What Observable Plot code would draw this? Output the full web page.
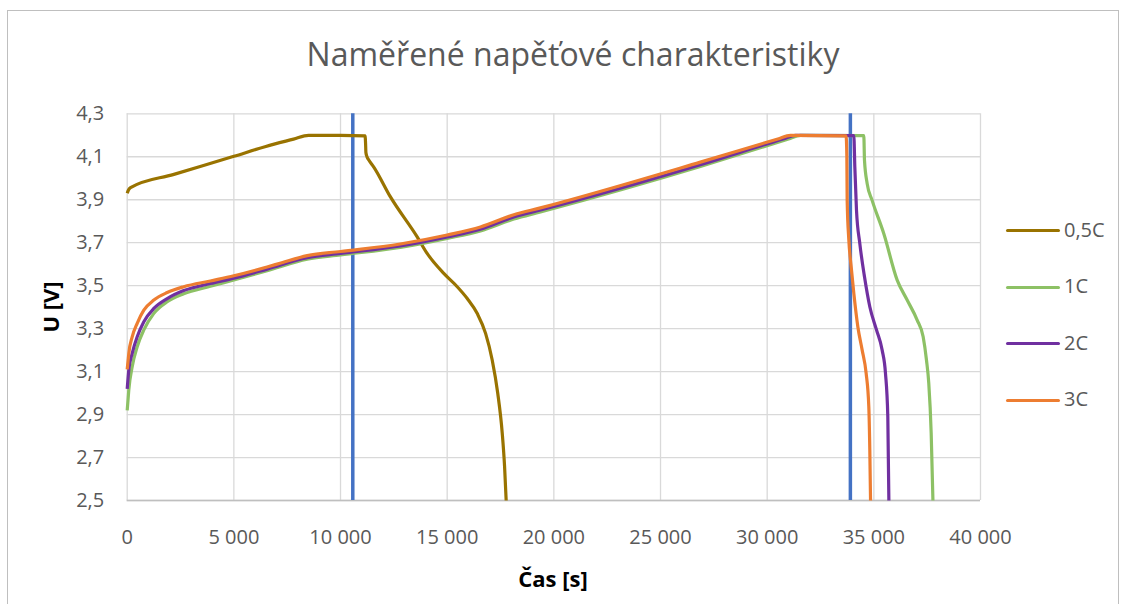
<!DOCTYPE html>
<html>
<head>
<meta charset="utf-8">
<script src="https://cdn.jsdelivr.net/npm/d3@7"></script>
<script src="https://cdn.jsdelivr.net/npm/@observablehq/plot@0.6"></script>
<style>
  body { margin: 0; background: #fff; }
  #wrap { position: relative; width: 1126px; height: 604px; overflow: hidden; font-family: "Open Sans", sans-serif; color: #595959; background: #fff; }
  #frame { position: absolute; left: 7px; top: 10px; width: 1112px; height: 640px; border: 1px solid #bfbfbf; box-sizing: border-box; }
  #chart { position: absolute; left: 0; top: 0; }
  #title { position: absolute; left: 573px; top: 38px; transform: translateX(-50%); white-space: nowrap; font-size: 32px; line-height: 1; color: #595959; }
  .axt { position: absolute; font-weight: bold; font-size: 22px; line-height: 1; color: #000; white-space: nowrap; }
  .leg { position: absolute; }
  .leg .ln { position: absolute; width: 54px; height: 3px; border-radius: 2px; }
  .leg .tx { position: absolute; font-size: 20px; line-height: 1; white-space: nowrap; color: #595959; }
</style>
</head>
<body>
<div id="wrap">
  <div id="frame"></div>
  <div id="chart"></div>
  <div id="title">Naměřené napěťové charakteristiky</div>
  <div class="axt" id="xt" style="left:553px; top:567px; transform:translateX(-50%);">Čas [s]</div>
  <div class="axt" id="yt" style="left:50px; top:307px; transform:translate(-50%,-50%) rotate(-90deg);">U [V]</div>
  <div id="legend"></div>
</div>
<script>
// ---- data ----
const seriesNames = ["0,5C", "1C", "2C", "3C"];
const seriesColors = ["#997300", "#8DC165", "#7030A0", "#ED7D31"];

const xTicks = [0, 5000, 10000, 15000, 20000, 25000, 30000, 35000, 40000];
const yTicks = [2.5, 2.7, 2.9, 3.1, 3.3, 3.5, 3.7, 3.9, 4.1, 4.3];

// vertical marker lines (time, s)
const markerTimes = [10575, 33900];

// 0,5C
const t05 = [0, 60, 155, 2190, 5000, 6500, 7800, 8500, 10000, 11150, 11175, 11190, 11240, 11325, 11560, 12340, 13594, 14060, 14840, 15470, 15940, 16410, 16800, 17110, 17370, 17580, 17690, 17765];
const v05 = [3.93, 3.945, 3.956, 4.018, 4.102, 4.148, 4.182, 4.2, 4.2, 4.197, 4.16, 4.12, 4.1, 4.085, 4.052, 3.913, 3.727, 3.65, 3.557, 3.495, 3.44, 3.37, 3.278, 3.154, 2.999, 2.814, 2.659, 2.5];

// 1C
const t1 = [0, 40, 75, 234, 469, 780, 1250, 1875, 2650, 3900, 5000, 6560, 8440, 10000, 12800, 15000, 16560, 18125, 19373, 26870, 31000, 31560, 34530, 34562, 34687, 34920, 35465, 36094, 36562, 37031, 37312, 37467, 37575, 37688, 37770];
const v1 = [2.92, 2.97, 3.015, 3.123, 3.216, 3.294, 3.371, 3.425, 3.462, 3.497, 3.527, 3.57, 3.623, 3.643, 3.678, 3.72, 3.755, 3.81, 3.843, 4.055, 4.183, 4.2, 4.198, 4.083, 3.975, 3.897, 3.743, 3.526, 3.433, 3.34, 3.262, 3.154, 3.046, 2.814, 2.5];

// 2C
const t2 = [0, 40, 75, 234, 469, 780, 1250, 1875, 2650, 3900, 5000, 6560, 8440, 10000, 12800, 15000, 16560, 18125, 19373, 26870, 30750, 31330, 34062, 34109, 34187, 34343, 34562, 34811, 35125, 35390, 35546, 35655, 35705];
const v2 = [3.02, 3.07, 3.108, 3.185, 3.262, 3.332, 3.394, 3.44, 3.477, 3.51, 3.535, 3.577, 3.63, 3.65, 3.685, 3.727, 3.763, 3.82, 3.852, 4.063, 4.183, 4.2, 4.198, 4.052, 3.851, 3.696, 3.541, 3.402, 3.294, 3.2, 3.092, 2.891, 2.5];

// 3C
const t3 = [0, 40, 75, 234, 469, 780, 1250, 1875, 2650, 3900, 5000, 6560, 7250, 8440, 10000, 12800, 15000, 16560, 18125, 19373, 26870, 30500, 31090, 33700, 33735, 33750, 33828, 33937, 34062, 34250, 34453, 34640, 34764, 34811, 34846];
const v3 = [3.11, 3.15, 3.185, 3.262, 3.325, 3.386, 3.433, 3.468, 3.495, 3.522, 3.546, 3.587, 3.607, 3.64, 3.659, 3.694, 3.736, 3.773, 3.83, 3.862, 4.075, 4.183, 4.2, 4.197, 4.1, 3.897, 3.712, 3.588, 3.464, 3.309, 3.2, 3.092, 2.937, 2.736, 2.5];

// ---- build table ----
const seriesT = [t05, t1, t2, t3];
const seriesV = [v05, v1, v2, v3];
const rows = [];
seriesNames.forEach((s, i) => {
  seriesT[i].forEach((t, j) => rows.push({s, t, v: seriesV[i][j]}));
});

const fmtX = d => d === 0 ? "0" : d3.format(",")(d).replace(/,/g, "\u00a0");
const fmtY = d => d.toFixed(1).replace(".", ",");

const chart = Plot.plot({
  width: 1126,
  height: 604,
  marginLeft: 126.7,
  marginRight: 146,
  marginTop: 113.3,
  marginBottom: 104,
  style: { fontFamily: "Open Sans, sans-serif", fontSize: "20px", color: "#595959", background: "transparent", overflow: "visible" },
  x: { domain: [0, 40000], label: null },
  y: { domain: [2.5, 4.3], label: null },
  color: { domain: seriesNames, range: seriesColors },
  marks: [
    Plot.gridX(xTicks, { stroke: "#d9d9d9", strokeOpacity: 1, strokeWidth: 1.3 }),
    Plot.gridY(yTicks, { stroke: "#d9d9d9", strokeOpacity: 1, strokeWidth: 1.3 }),
    Plot.ruleY([2.5], { stroke: "#bfbfbf", strokeWidth: 1.5 }),
    Plot.axisX(xTicks, { tickSize: 0, tickPadding: 29, tickFormat: fmtX, label: null, fill: "#595959", fontSize: 20 }),
    Plot.axisY(yTicks, { tickSize: 0, tickPadding: 23, tickFormat: fmtY, label: null, fill: "#595959", fontSize: 20 }),
    Plot.ruleX(markerTimes, { stroke: "#4472C4", strokeWidth: 3.5 }),
    Plot.line(rows, { x: "t", y: "v", z: "s", stroke: "s", strokeWidth: 3.2, curve: "monotone-x", strokeLinejoin: "round", strokeLinecap: "butt" })
  ]
});
document.getElementById("chart").appendChild(chart);

// legend
const legend = document.getElementById("legend");
const legY = [230.7, 287.3, 343.7, 400.3];
seriesNames.forEach((s, i) => {
  const ln = document.createElement("div");
  ln.className = "leg";
  ln.innerHTML = `<div class="ln" style="left:1006px; top:${legY[i] - 1.5}px; background:${seriesColors[i]}"></div>` +
                 `<div class="tx" style="left:1064px; top:${legY[i] - 11}px;">${s}</div>`;
  legend.appendChild(ln);
});
</script>
</body>
</html>
